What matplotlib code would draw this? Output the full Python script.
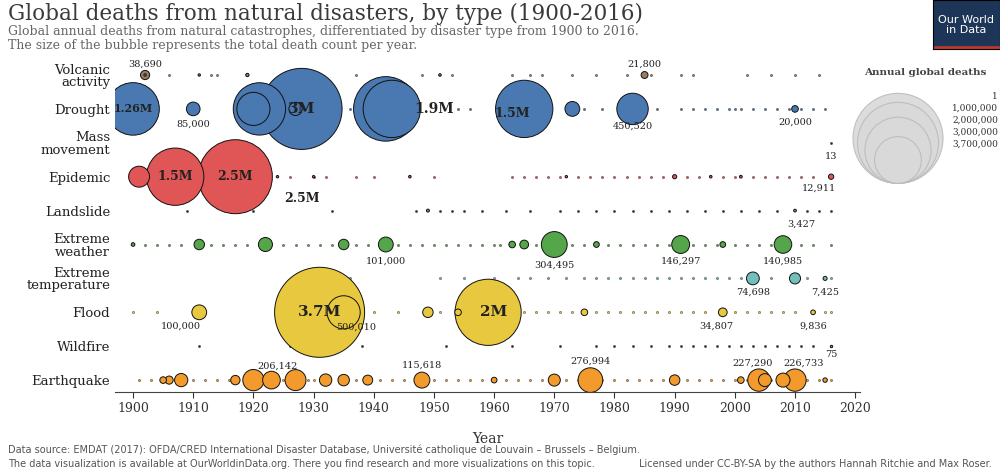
import matplotlib
matplotlib.use("Agg")
import matplotlib.pyplot as plt
from matplotlib.patches import Circle

categories = ["Volcanic\nactivity", "Drought", "Mass\nmovement", "Epidemic", "Landslide",
              "Extreme\nweather", "Extreme\ntemperature", "Flood", "Wildfire", "Earthquake"]
colors = ["#9c7a5e", "#4a78b0", "#888888", "#e05555", "#888888",
          "#55a64a", "#72c0bc", "#e8c83e", "#888888", "#f29b2c"]

# (year, deaths) big events per category
volcanic = [(1902, 38690), (1985, 21800), (1911, 1300), (1919, 5000), (1929, 1500), (1951, 3000), (1902, 2000)]
drought = [(1900, 1260000), (1910, 85000), (1921, 1250000), (1928, 3000000), (1942, 1900000), (1943, 1500000),
           (1965, 1500000), (1973, 100000), (1983, 450520), (2010, 20000), (1920, 500000), (1927, 80000)]
mass_movement = []
epidemic = [(1901, 200000), (1907, 1500000), (1917, 2500000), (1946, 3000), (1972, 1500), (1990, 8000),
            (1996, 3000), (2001, 3500), (2016, 12911), (1924, 1000), (1930, 1000)]
landslide = [(1949, 4000), (2010, 3427)]
extreme_weather = [(1911, 50000), (1922, 90000), (1935, 50000), (1942, 101000), (1963, 20000), (1965, 35000),
                   (1970, 304495), (1977, 15000), (1991, 146297), (1998, 15000), (2008, 140985), (1900, 6000)]
extreme_temp = [(2003, 74698), (2010, 56000), (2015, 7425)]
flood = [(1911, 100000), (1931, 3700000), (1935, 500010), (1949, 50000), (1954, 20000), (1959, 2000000),
         (1975, 20000), (1998, 34807), (2013, 9836)]
wildfire = [(2016, 75)]
earthquake = [(1905, 20000), (1906, 30000), (1908, 80000), (1917, 40000), (1920, 206142), (1923, 143000),
              (1927, 200000), (1932, 70000), (1935, 60000), (1939, 45000), (1948, 115618), (1960, 15000),
              (1970, 66000), (1976, 276994), (1990, 50000), (2001, 20000), (2004, 227290), (2005, 76000),
              (2008, 90000), (2010, 226733), (2015, 9000)]

# years with small death counts (tiny dots)
small_years = [
    [1906, 1913, 1914, 1926, 1928, 1930, 1931, 1937, 1948, 1953, 1963, 1966, 1968, 1973, 1977, 1982, 1986, 1991, 1993, 2002, 2006, 2010, 2014],
    [1917, 1925, 1936, 1954, 1956, 1961, 1975, 1978, 1985, 1987, 1991, 1993, 1995, 1997, 1999, 2000, 2001, 2003, 2005, 2007, 2009, 2011, 2013, 2015],
    [2016],
    [1905, 1913, 1926, 1930, 1932, 1937, 1940, 1950, 1963, 1965, 1967, 1969, 1971, 1974, 1976, 1978, 1980, 1982, 1984, 1986, 1988, 1992, 1994, 1998, 2000, 2003, 2005, 2007, 2009, 2011, 2013],
    [1909, 1920, 1933, 1947, 1951, 1953, 1955, 1958, 1962, 1966, 1971, 1974, 1977, 1980, 1983, 1986, 1989, 1992, 1995, 1998, 2001, 2004, 2007, 2012, 2014, 2016],
    [1902, 1904, 1906, 1908, 1913, 1915, 1917, 1919, 1925, 1927, 1929, 1931, 1933, 1937, 1939, 1944, 1946, 1948, 1950, 1952, 1954, 1956, 1958, 1960, 1961, 1967, 1973, 1975, 1979, 1981, 1983, 1985, 1987, 1989, 1993, 1995, 1997, 2000, 2002, 2004, 2006, 2011, 2013, 2016],
    [1936, 1951, 1955, 1960, 1964, 1966, 1969, 1972, 1975, 1977, 1979, 1981, 1983, 1985, 1987, 1989, 1991, 1993, 1995, 1997, 1999, 2001, 2006, 2012, 2016],
    [1900, 1904, 1926, 1928, 1938, 1940, 1944, 1951, 1961, 1963, 1965, 1967, 1969, 1971, 1973, 1977, 1979, 1981, 1983, 1985, 1987, 1989, 1991, 1993, 1995, 2000, 2002, 2004, 2006, 2008, 2010, 2015, 2016],
    [1911, 1926, 1938, 1952, 1963, 1971, 1977, 1980, 1983, 1986, 1989, 1991, 1993, 1995, 1997, 1999, 2001, 2003, 2005, 2007, 2009, 2011, 2013],
    [1901, 1903, 1910, 1912, 1914, 1916, 1925, 1929, 1930, 1937, 1941, 1943, 1945, 1950, 1952, 1954, 1956, 1958, 1962, 1964, 1966, 1968, 1972, 1974, 1978, 1980, 1982, 1984, 1986, 1988, 1992, 1994, 1996, 1998, 2000, 2002, 2006, 2012, 2014, 2016],
]
big = [volcanic, drought, mass_movement, epidemic, landslide, extreme_weather, extreme_temp, flood, wildfire, earthquake]

labels = [  # (row, year, y offset, text, fontsize)
    (0, 1902, -0.33, "38,690", 0), (0, 1985, -0.33, "21,800", 0),
    (1, 1900, 0, "1.26M", 8), (1, 1910, 0.45, "85,000", 0), (1, 1928, 0, "3M", 11),
    (1, 1950, 0, "1.9M", 10), (1, 1963, 0.15, "1.5M", 9), (1, 1983, 0.5, "450,520", 0),
    (1, 2010, 0.4, "20,000", 0), (2, 2016, 0.4, "13", 0),
    (3, 1907, 0, "1.5M", 9), (3, 1917, 0, "2.5M", 9), (3, 1928, 0.65, "2.5M", 9),
    (3, 2014, 0.35, "12,911", 0), (4, 2011, 0.4, "3,427", 0),
    (5, 1942, 0.5, "101,000", 0), (5, 1970, 0.6, "304,495", 0), (5, 1991, 0.5, "146,297", 0),
    (5, 2008, 0.5, "140,985", 0), (6, 2003, 0.4, "74,698", 0), (6, 2015, 0.4, "7,425", 0),
    (7, 1931, 0, "3.7M", 11), (7, 1937, 0.45, "500,010", 0), (7, 1960, 0, "2M", 11),
    (7, 1997, 0.4, "34,807", 0), (7, 2013, 0.4, "9,836", 0), (7, 1908, 0.4, "100,000", 0),
    (8, 2016, 0.25, "75", 0),
    (9, 1924, -0.4, "206,142", 0), (9, 1948, -0.45, "115,618", 0), (9, 1976, -0.55, "276,994", 0),
    (9, 2003, -0.5, "227,290", 0), (9, 2011.5, -0.5, "226,733", 0),
]

K = 0.001135  # scatter size per death
fig = plt.figure(figsize=(10, 4.71), dpi=100)
ybot_px, ytop_px = 392, 58
ax = fig.add_axes([0.115, 1 - ybot_px / 471, 0.745, (ybot_px - ytop_px) / 471])
ax.set_xlim(1897.0, 2020.8)
ax.set_ylim((ybot_px - 75) / 33.9, (ytop_px - 75) / 33.9)

for i, (row, sm) in enumerate(zip(big, small_years)):
    ax.scatter(sm, [i] * len(sm), s=2.5, color="#333333" if colors[i] == "#888888" else colors[i],
               edgecolors="#222222", linewidths=0.3, zorder=2)
    rs = sorted(row, key=lambda t: -t[1])
    ax.scatter([t[0] for t in rs], [i] * len(rs), s=[max(K * t[1], 3) for t in rs],
               color=colors[i], edgecolors="#111111", linewidths=0.7, zorder=3)

for r, yr, dy, txt, fs in labels:
    ax.text(yr, r + dy, txt, ha="center", va="center", family="DejaVu Serif",
            fontsize=fs if fs else 7, fontweight="bold" if fs else "normal", color="#222222", zorder=5)

ax.set_yticks(range(10))
ax.set_yticklabels(categories, family="DejaVu Serif", fontsize=9.5, color="#222222", linespacing=0.95)
ax.set_xticks(range(1900, 2021, 10))
ax.tick_params(axis="x", labelsize=9, colors="#333333", length=4)
for lab in ax.get_xticklabels():
    lab.set_family("DejaVu Serif")
ax.tick_params(axis="y", length=0)
ax.set_xlabel("Year", family="DejaVu Serif", fontsize=10, color="#333333", labelpad=12)
for s in ["top", "right", "left"]:
    ax.spines[s].set_visible(False)
ax.spines["bottom"].set_color("#444444")

# Title etc
fig.text(0.008, 0.97, "Global deaths from natural disasters, by type (1900-2016)", family="DejaVu Serif",
         fontsize=15.5, color="#3a3a3a", va="center")
fig.text(0.008, 0.934, "Global annual deaths from natural catastrophes, differentiated by disaster type from 1900 to 2016.",
         family="DejaVu Serif", fontsize=9, color="#666666", va="center")
fig.text(0.008, 0.904, "The size of the bubble represents the total death count per year.",
         family="DejaVu Serif", fontsize=9, color="#666666", va="center")
lx = fig.add_axes([0.933, 0.895, 0.067, 0.105])
lx.set_facecolor("#1d3557"); lx.set_xticks([]); lx.set_yticks([])
lx.axhline(0.0, color="#c0392b", lw=4)
lx.text(0.5, 0.5, "Our World\nin Data", color="white", ha="center", va="center", fontsize=8, linespacing=1.0)

fig.text(0.008, 0.038, "Data source: EMDAT (2017): OFDA/CRED International Disaster Database, Université catholique de Louvain – Brussels – Belgium.",
         fontsize=7, color="#555555")
fig.text(0.008, 0.008, "The data visualization is available at OurWorldinData.org. There you find research and more visualizations on this topic.",
         fontsize=7, color="#555555")
fig.text(0.992, 0.008, "Licensed under CC-BY-SA by the authors Hannah Ritchie and Max Roser.",
         fontsize=7, color="#555555", ha="right")

# size legend
legend_vals = [1, 1000000, 2000000, 3000000, 3700000]
leg_labels = ["1", "1,000,000", "2,000,000", "3,000,000", "3,700,000"]
fig.text(0.925, 0.84, "Annual global deaths", fontsize=7.5, fontweight="bold", color="#444444",
         ha="center", family="DejaVu Serif")
lg = fig.add_axes([0.84, 0.6, 0.16, 0.24])
lg.set_xlim(0, 160); lg.set_ylim(0, 113)
lg.set_aspect("equal", adjustable="datalim")
lg.axis("off")
base = 5
for v in legend_vals[::-1]:
    r = 45 * (v / 3.7e6) ** 0.5
    lg.add_patch(Circle((58, base + r), r, facecolor="#d9d9d9", edgecolor="#bbbbbb", lw=0.8, alpha=0.9))
for k, t in enumerate(leg_labels):
    lg.text(158, 92 - k * 12, t, ha="right", va="center", fontsize=6.5, family="DejaVu Serif", color="#333333")

fig.savefig("out.png", dpi=100)
